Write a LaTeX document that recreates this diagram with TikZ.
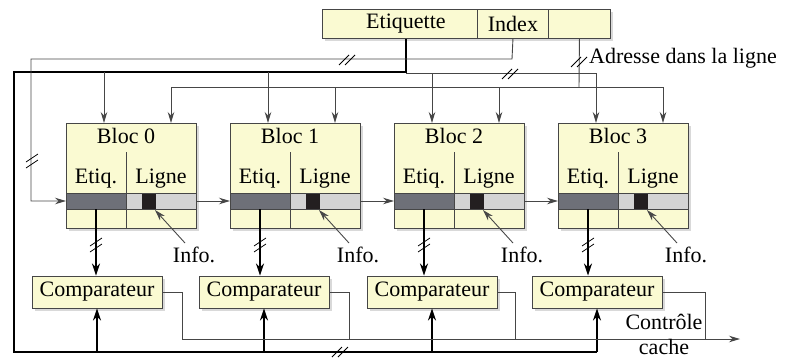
\documentclass[tikz,border=0pt]{standalone}
\usepackage{fontspec}
\setmainfont{Liberation Serif}
\usetikzlibrary{arrows.meta,shadows,calc}
\definecolor{boxfill}{RGB}{250,250,210}
\definecolor{darkbar}{RGB}{110,112,120}
\definecolor{lightbar}{RGB}{212,212,212}
\definecolor{sqcol}{RGB}{35,31,32}
\definecolor{linecol}{RGB}{70,70,70}
\begin{document}
\begin{tikzpicture}[x=1pt,y=-1pt,
  thinline/.style={line width=0.9pt, draw=linecol},
  boldline/.style={line width=2.8pt, draw=black, line join=miter},
  arr/.style={-{Stealth[length=11pt,width=6.5pt]}},
  boldarr/.style={-{Stealth[length=12pt,width=8pt]}},
  box/.style={draw=linecol, line width=0.9pt, fill=boxfill,
    drop shadow={shadow xshift=3pt, shadow yshift=-3pt, fill=black!25, opacity=.6}},
  field/.style={draw=linecol, line width=0.9pt, inner sep=0pt, anchor=north west, minimum height=29pt, font=\fontsize{22}{25}\selectfont},
  lbl/.style={font=\fontsize{22}{25}\selectfont, inner sep=0pt},
  hslash/.pic={\draw[line width=0.8pt, black] (-8,5) -- (2,-5) (-2,5) -- (8,-5);},
  vslash/.pic={\draw[line width=0.8pt, black] (-6,2) -- (6,-6) (-6,8) -- (6,0);}
]
\useasboundingbox (0,0) rectangle (790,359);

% register
\node[box, minimum width=288pt, minimum height=29pt, anchor=north west, inner sep=0pt] (reg) at (322,9) {};
\node[field, minimum width=155pt] (etq) at (322,9) {\hspace*{12pt}Etiquette};
\node[field, minimum width=71pt] (idx) at (477,9) {Index};
\node[field, minimum width=62pt] (adr) at (548,9) {};

% named bend points
\coordinate (e1) at (406,72);
\coordinate (e2) at (14,72);
\coordinate (e3) at (14,352);
\coordinate (e4) at (597,352);
\coordinate (t1) at (597,73);
\coordinate (i1) at (512,59);
\coordinate (i2) at (31,59);
\coordinate (i3) at (31,201);
\coordinate (a1) at (579,87);
\coordinate (a2) at (171,87);
\coordinate (a3) at (663,87);
\coordinate (ctrlend) at (740,339);

% blocs
\foreach \i in {0,...,3}{
  \pgfmathsetmacro\L{66+164*\i}
  \node[box, minimum width=130pt, minimum height=105pt, anchor=north west, inner sep=0pt] (b\i) at (\L,123) {};
  \fill[darkbar] (\L,193) rectangle (\L+60,209);
  \fill[lightbar] (\L+60,193) rectangle (\L+130,209);
  \fill[sqcol] (\L+76,193) rectangle (\L+90,209);
  \draw[thinline] (\L,193) -- (\L+130,193) (\L,209) -- (\L+130,209);
  \draw[thinline] (\L+60,152) -- (\L+60,228);
  \draw[thinline] (b\i.north west) rectangle (b\i.south east);
  \node[lbl, anchor=base] (bt\i) at (\L+60,143) {Bloc \i};
  \node[lbl, anchor=base] (et\i) at (\L+30,183) {Etiq.};
  \node[lbl, anchor=base] (li\i) at (\L+95,183) {Ligne};
  \node[lbl, anchor=base] (inf\i) at (\L+128,262) {Info.};
  \coordinate (bin\i) at (\L,201);
  \coordinate (bout\i) at (\L+130,201);
  \coordinate (tag\i) at (\L+30,209);
  \coordinate (sq\i) at (\L+89,210);
  \coordinate (ia\i) at (\L+119,243);
  \coordinate (tl\i) at (\L+38,123);
  \coordinate (tr\i) at (\L+105,123);
  \draw[thinline, arr] (ia\i) -- (sq\i);
}

% comparators
\foreach \i/\cx/\ox in {0/97/182, 1/264/349, 2/432/515, 3/597/705}{
  \node[box, minimum width=130pt, minimum height=32pt, inner sep=0pt, lbl] (c\i) at (\cx,292) {Comparateur};
  \coordinate (o\i) at (\ox,339);
  \draw[thinline] (c\i.east) -| (o\i);
  \draw[boldline, boldarr] (tag\i) -- (tag\i |- c\i.north);
  \draw[boldline, boldarr] (c\i.south |- e3) -- (c\i.south);
  \path (tag\i) ++(0,35) pic {vslash};
}

% etiquette bus (bold)
\draw[boldline] (etq.south -| e1) -- (e1) -- (e2) -- (e3) -- (e4);
\draw[thinline] (e1 |- t1) -- (t1);
\foreach \i in {0,1}{ \draw[thinline, arr] (tl\i |- e1) -- (tl\i); }
\foreach \i in {2,3}{ \draw[thinline, arr] (tl\i |- t1) -- (tl\i); }

% index line
\draw[thinline, arr] (idx.south) -- (i1) -- (i2) -- (i3) -- (bin0);
\foreach \i/\j in {0/1,1/2,2/3}{ \draw[thinline, arr] (bout\i) -- (bin\j); }

% adresse dans la ligne
\draw[thinline] (adr.south) -- (a1);
\draw[thinline] (a2) -- (a3);
\foreach \i in {0,...,3}{ \draw[thinline, arr] (tr\i |- a1) -- (tr\i); }
\node[lbl, anchor=base west] (adrl) at (589,63) {Adresse dans la ligne};

% output
\draw[thinline, arr] (o0) -- (ctrlend);
\node[lbl, align=center] (ctl) at (664,334) {Contrôle\\cache};

% slashes
\path (347,60) pic {hslash};
\path (510,74) pic {hslash};
\path (579,62) pic {hslash};
\path (32,160) pic {vslash};
\path (340,352) pic {hslash};
\end{tikzpicture}
\end{document}
